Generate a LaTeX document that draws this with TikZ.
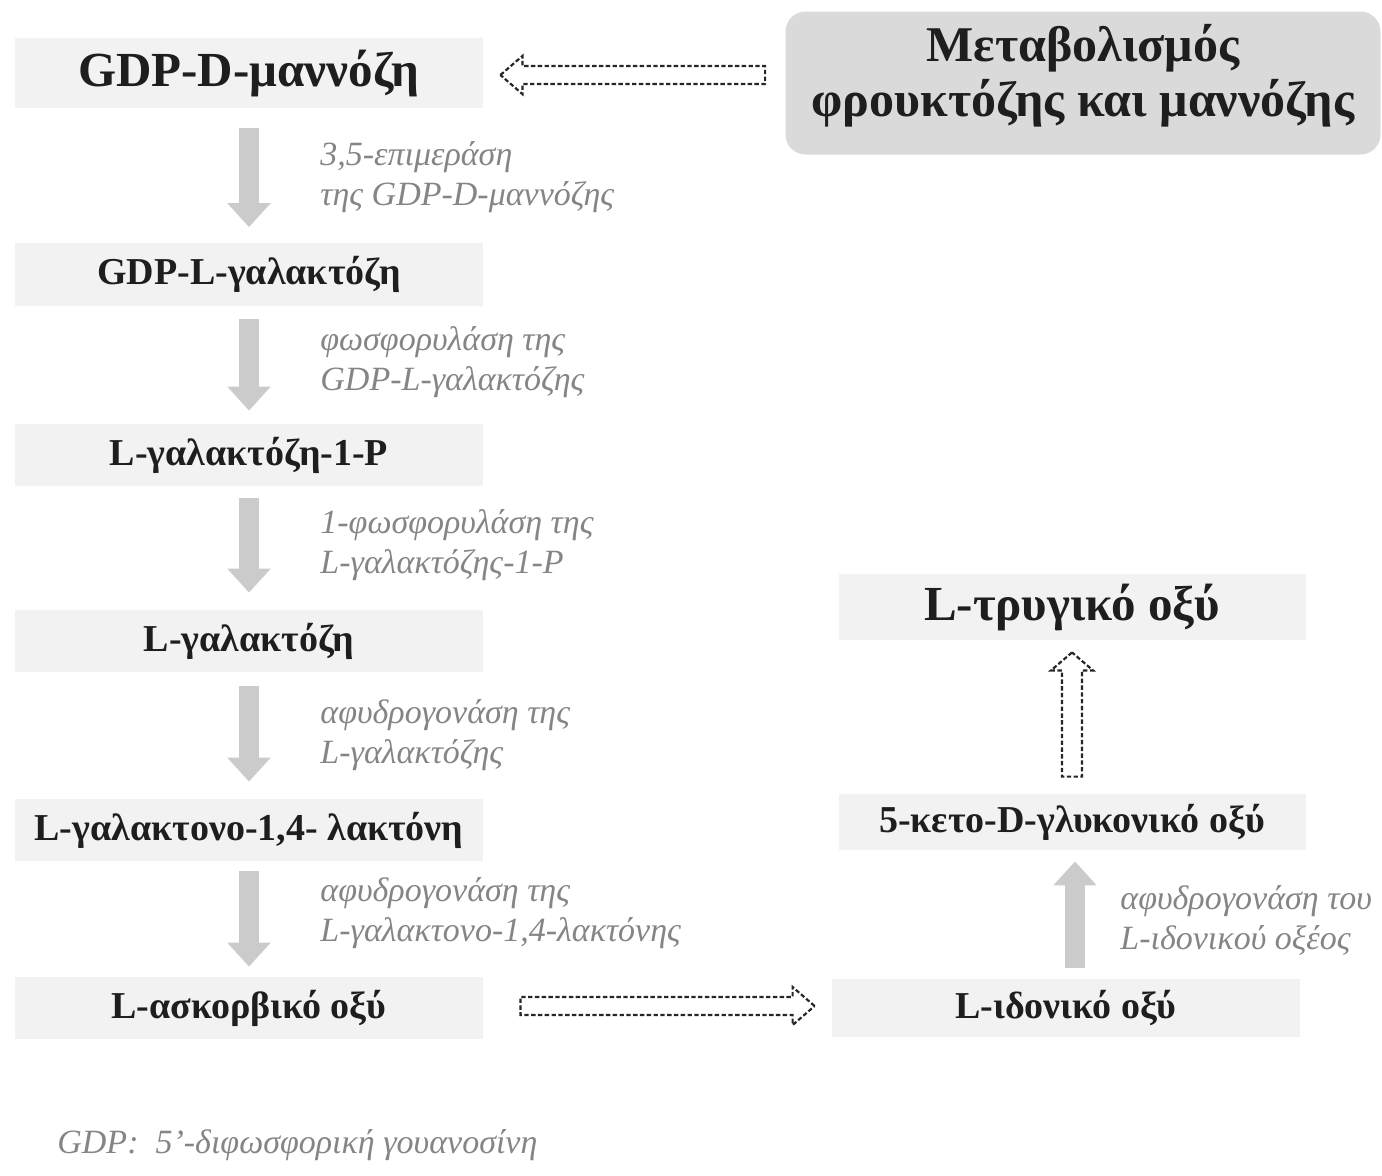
\documentclass[tikz,border=0pt]{standalone}
\usepackage{fontspec}
\setmainfont{Liberation Serif}
\usetikzlibrary{calc,arrows.meta}
\definecolor{boxfill}{HTML}{F2F2F2}
\definecolor{metafill}{HTML}{DADADA}
\definecolor{txtdark}{HTML}{1E1E1E}
\definecolor{lblgray}{HTML}{858585}
\definecolor{arrgray}{HTML}{CBCBCB}
\begin{document}
\begin{tikzpicture}[x=0.5pt,y=-0.5pt,
  box/.style={fill=boxfill, draw=none, inner sep=0pt, text=txtdark, font=\bfseries\fontsize{19}{22}\selectfont},
  bigbox/.style={box, font=\bfseries\fontsize{24.5}{28}\selectfont},
  lbl/.style={anchor=west, align=left, inner sep=0pt, text=lblgray, font=\itshape\fontsize{17}{20}\selectfont},
  grayarr/.style={draw=arrgray, line width=10pt, -{Triangle[width=21pt,length=12pt]}, color=arrgray},
  hollow/.style={draw=black!85, line width=1.1pt, dash pattern=on 2.2pt off 1.2pt, line join=miter}
]
\useasboundingbox (0,0) rectangle (1382,1175);
% left column
\node[bigbox, minimum width=234pt, minimum height=35pt] (gdpd) at (249,73) {GDP-D-μαννόζη};
\node[box, minimum width=234pt, minimum height=31.5pt] (gdpl) at (249,274) {GDP-L-γαλακτόζη};
\node[box, minimum width=234pt, minimum height=31pt] (gal1p) at (249,455) {L-γαλακτόζη-1-P};
\node[box, minimum width=234pt, minimum height=31pt] (gal) at (249,641) {L-γαλακτόζη};
\node[box, minimum width=234pt, minimum height=31pt] (lact) at (249,830) {L-γαλακτονο-1,4- λακτόνη};
\node[box, minimum width=234pt, minimum height=31pt] (asc) at (249,1008) {L-ασκορβικό οξύ};
% right column
\node[fill=metafill, rounded corners=10pt, minimum width=297.5pt, minimum height=71.5pt, inner sep=0pt] (meta) at (1083,83) {};
\node[align=center, inner sep=0pt, text=txtdark, font=\bfseries\fontsize{25}{27.5}\selectfont] (metatxt) at (1083,76) {Μεταβολισμός\\φρουκτόζης και μαννόζης};
\node[bigbox, minimum width=233.5pt, minimum height=33pt] (tart) at (1072,607) {L-τρυγικό οξύ};
\node[box, minimum width=233.5pt, minimum height=28pt] (keto) at (1072,822) {5-κετο-D-γλυκονικό οξύ};
\node[box, minimum width=234pt, minimum height=29pt] (idon) at (1066,1008) {L-ιδονικό οξύ};
% gray arrows
\draw[grayarr, shorten <=10pt, shorten >=7.5pt] (gdpd) -- (gdpl);
\draw[grayarr, shorten <=6.5pt, shorten >=6.5pt] (gdpl) -- (gal1p);
\draw[grayarr, shorten <=6pt, shorten >=8.5pt] (gal1p) -- (gal);
\draw[grayarr, shorten <=7pt, shorten >=8.5pt] (gal) -- (lact);
\draw[grayarr, shorten <=5pt, shorten >=5pt] (lact) -- (asc);
\coordinate (xr) at (1075,0);
\draw[grayarr, shorten <=5.5pt, shorten >=5.5pt] (idon.north -| xr) -- (keto.south -| xr);
% labels
\node[lbl] (l1) at (320,177) {3,5-επιμεράση\\της GDP-D-μαννόζης};
\node[lbl] (l2) at (320,362) {φωσφορυλάση της\\GDP-L-γαλακτόζης};
\node[lbl] (l3) at (320,545) {1-φωσφορυλάση της\\L-γαλακτόζης-1-P};
\node[lbl] (l4) at (320,735) {αφυδρογονάση της\\L-γαλακτόζης};
\node[lbl] (l5) at (320,913) {αφυδρογονάση της\\L-γαλακτονο-1,4-λακτόνης};
\node[lbl] (l6) at (1120,920) {αφυδρογονάση του\\L-ιδονικού οξέος};
\node[lbl] (foot) at (57,1145) {GDP:\ \ 5'-διφωσφορική γουανοσίνη};
% hollow dashed arrows
\coordinate (la) at ([xshift=8.5pt,yshift=-1pt]gdpd.east);
\draw[hollow] (la) -- ++(22,-19) -- ++(0,10) -- ($(meta.west |- la)+(-20,-9)$) -- ++(0,18) -- ($(la)+(22,9)$) -- ++(0,10) -- cycle;
\coordinate (ra) at ([xshift=-8.5pt,yshift=1pt]idon.west);
\draw[hollow] (ra) -- ++(-22,-19) -- ++(0,10) -- ($(asc.east |- ra)+(37,-9)$) -- ++(0,18) -- ($(ra)+(-22,9)$) -- ++(0,10) -- cycle;
\coordinate (ua) at ($(tart.south)+(0,12)$);
\draw[hollow] (ua) -- ++(-21,18) -- ++(11,0) -- ($(keto.north)+(-10,-17)$) -- ++(20,0) -- ($(ua)+(10,18)$) -- ++(11,0) -- cycle;
\end{tikzpicture}
\end{document}
